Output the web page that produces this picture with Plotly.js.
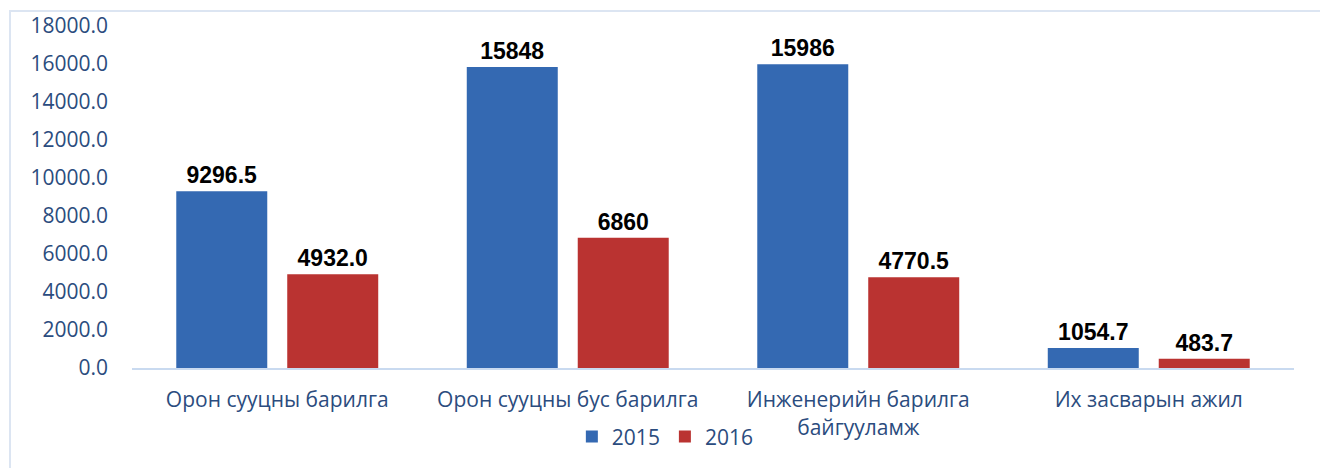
<!DOCTYPE html>
<html>
<head>
<meta charset="utf-8">
<script src="https://cdn.plot.ly/plotly-3.0.1.min.js"></script>
<style>
  html, body { margin: 0; padding: 0; background: #ffffff; }
  #wrap { position: relative; width: 1320px; height: 468px; overflow: hidden; }
  #frame { position: absolute; left: 9px; top: 10px; width: 1400px; height: 600px;
           border-left: 2px solid #DCE5F2; border-top: 2px solid #DCE5F2; }
  #chart { position: absolute; left: 0; top: 0; width: 1320px; height: 468px; }
</style>
</head>
<body>
<div id="wrap">
  <div id="frame"></div>
  <div id="chart"></div>
</div>
<script>
const categories = [
  "Орон сууцны барилга",
  "Орон сууцны бус барилга",
  "Инженерийн барилга<br>байгууламж",
  "Их засварын ажил"
];
const series2015 = [9296.5, 15848, 15986, 1054.7];
const series2016 = [4932.0, 6860, 4770.5, 483.7];
const labels2015 = ["9296.5", "15848", "15986", "1054.7"];
const labels2016 = ["4932.0", "6860", "4770.5", "483.7"];
const tickValues = [0, 2000, 4000, 6000, 8000, 10000, 12000, 14000, 16000, 18000];
const tickLabels = ["0.0", "2000.0", "4000.0", "6000.0", "8000.0", "10000.0", "12000.0", "14000.0", "16000.0", "18000.0"];

const textColor = "#2B4C7E";
const labelFont = { family: "Liberation Sans, Arial, sans-serif", size: 23, color: "#000000", weight: "bold" };

const traces = [
  {
    type: "bar", name: "2015", x: categories, y: series2015,
    text: labels2015, textposition: "outside", cliponaxis: false,
    textfont: labelFont,
    marker: { color: "#3469B2" },
    hoverinfo: "skip"
  },
  {
    type: "bar", name: "2016", x: categories, y: series2016,
    text: labels2016, textposition: "outside", cliponaxis: false,
    textfont: labelFont,
    marker: { color: "#BA3331" },
    hoverinfo: "skip"
  }
];

const layout = {
  width: 1320, height: 468,
  margin: { l: 132, r: 26, t: 26, b: 99 },
  paper_bgcolor: "rgba(0,0,0,0)",
  plot_bgcolor: "rgba(0,0,0,0)",
  barmode: "group",
  bargap: 0.236,
  bargroupgap: 0.18,
  font: { family: "Open Sans, sans-serif", size: 21, color: textColor },
  xaxis: {
    showline: true, linecolor: "#C9DAF0", linewidth: 2,
    showgrid: false, zeroline: false, ticks: "",
    ticklabelstandoff: 12,
    tickfont: { family: "Open Sans, sans-serif", size: 21, color: textColor },
    fixedrange: true
  },
  yaxis: {
    range: [0, 18000],
    tickvals: tickValues, ticktext: tickLabels,
    showline: false, showgrid: false, zeroline: false, ticks: "",
    ticklabelstandoff: 23,
    tickfont: { family: "Open Sans, sans-serif", size: 21, color: textColor },
    fixedrange: true
  },
  showlegend: true,
  legend: {
    orientation: "h",
    x: 0.459, xanchor: "center",
    y: -0.198, yanchor: "middle",
    font: { family: "Open Sans, sans-serif", size: 21, color: textColor },
    itemwidth: 30,
    bgcolor: "rgba(0,0,0,0)"
  }
};

Plotly.newPlot("chart", traces, layout, { staticPlot: true, displayModeBar: false });
</script>
</body>
</html>
